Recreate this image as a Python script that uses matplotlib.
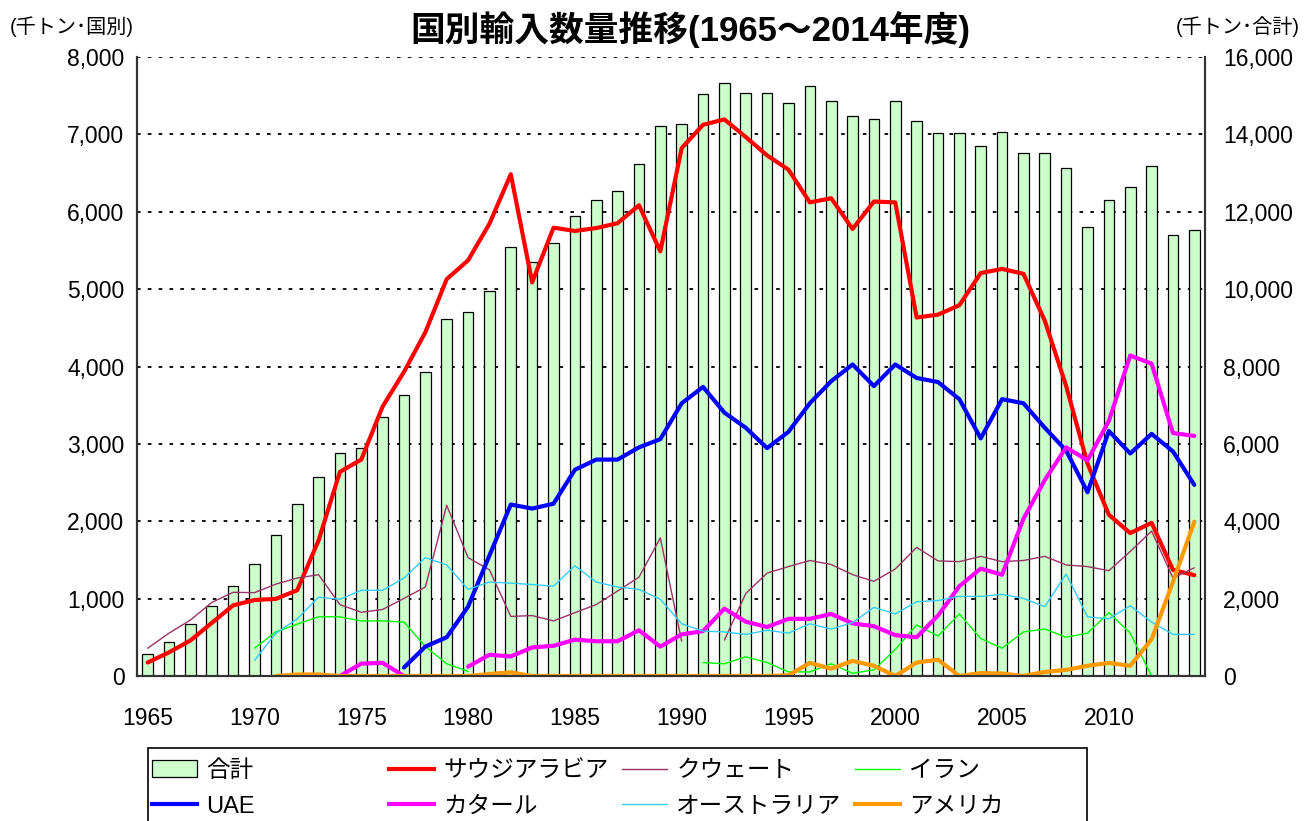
import numpy as np
import matplotlib
matplotlib.use("Agg")
import matplotlib.pyplot as plt
from matplotlib.ticker import FuncFormatter
from matplotlib.patches import Rectangle, Patch
from matplotlib.lines import Line2D

plt.rcParams['font.family'] = ['Liberation Sans', 'Noto Sans CJK JP']
nan = np.nan

years = np.arange(1965, 2015)

# 合計 (right axis)
total = [570, 887, 1351, 1815, 2322, 2890, 3650, 4440, 5150, 5763,
         5900, 6691, 7261, 7863, 9235, 9414, 9942, 11087, 10702, 11198,
         11884, 12306, 12528, 13245, 14206, 14280, 15040, 15325, 15082, 15082,
         14818, 15240, 14860, 14470, 14385, 14860, 14354, 14037, 14037, 13710,
         14069, 13530, 13530, 13140, 11599, 12306, 12644, 13172, 11409, 11525]

saudi = [174, 306, 459, 686, 913, 982, 997, 1108, 1752, 2639,
         2797, 3483, 3931, 4443, 5129, 5372, 5845, 6485, 5087, 5794,
         5752, 5789, 5852, 6084, 5488, 6823, 7124, 7193, 6966, 6728,
         6544, 6121, 6174, 5778, 6132, 6121, 4633, 4670, 4792, 5208,
         5261, 5198, 4591, 3747, 2744, 2084, 1847, 1979, 1372, 1303]

kuwait = [359, 554, 723, 950, 1082, 1077, 1187, 1266, 1309, 923,
          823, 860, 1003, 1150, 2206, 1530, 1372, 770, 781, 712,
          818, 923, 1098, 1277, 1784, 449, nan, 464, 1066, 1330,
          1414, 1493, 1441, 1310, 1224, 1383, 1662, 1488, 1478, 1546,
          1478, 1493, 1546, 1435, 1414, 1361, 1609, 1873, 1266, 1398]

iran = [nan, nan, nan, nan, nan, 359, 570, 670, 765, 765,
        712, 712, 697, 380, 158, 60, nan, nan, nan, nan,
        nan, nan, nan, nan, nan, nan, 174, 158, 248, 174,
        53, 53, 158, 35, 79, 343, 660, 517, 802, 485,
        359, 570, 607, 501, 554, 818, 554, 0, 0, 0]

uae = [nan, nan, nan, nan, nan, nan, nan, nan, nan, nan,
       nan, nan, 110, 380, 501, 897, 1557, 2216, 2164, 2227,
       2665, 2797, 2797, 2955, 3061, 3525, 3736, 3404, 3208, 2945,
       3156, 3525, 3810, 4026, 3747, 4026, 3852, 3799, 3578, 3071,
       3578, 3525, 3208, 2913, 2375, 3166, 2876, 3129, 2902, 2470]

qatar = [nan, nan, nan, nan, nan, nan, nan, nan, nan, 0,
         160, 170, 0, nan, nan, 121, 274, 253, 369, 390,
         470, 449, 449, 591, 380, 538, 580, 871, 702, 633,
         739, 739, 802, 680, 644, 528, 501, 781, 1161, 1388,
         1309, 2032, 2533, 2955, 2786, 3298, 4142, 4037, 3140, 3103]

australia = [nan, nan, nan, nan, nan, 201, 554, 739, 1018, 992,
             1108, 1108, 1266, 1530, 1435, 1119, 1214, 1200, 1182, 1161,
             1425, 1214, 1150, 1119, 992, 675, 580, 570, 538, 591,
             554, 675, 607, 690, 887, 802, 960, 976, 1029, 1029,
             1055, 1003, 897, 1319, 765, 739, 908, 697, 538, 538]

usa = [nan, nan, nan, nan, nan, nan, 0, 20, 20, 0,
       0, 0, 0, 0, 0, 0, 26, 47, 0, 0,
       0, 0, 0, 0, 0, 0, 0, 0, 0, 0,
       10, 169, 95, 195, 132, 0, 174, 211, 0, 37,
       32, 0, 53, 79, 132, 169, 132, 475, 1214, 1995]

series = [
    ("サウジアラビア", saudi, "#FF0000", 3.0),
    ("クウェート", kuwait, "#993366", 1.0),
    ("イラン", iran, "#00FF00", 1.0),
    ("UAE", uae, "#0000FF", 3.0),
    ("カタール", qatar, "#FF00FF", 3.0),
    ("オーストラリア", australia, "#33CCFF", 1.0),
    ("アメリカ", usa, "#FF9900", 3.0),
]

W, H = 1306, 821
fig = plt.figure(figsize=(W / 100, H / 100), dpi=100)
ax = fig.add_axes([137 / W, 1 - 676 / H, (1205 - 137) / W, (676 - 57) / H])
ax2 = ax.twinx()

# bars on the right axis, behind the lines
ax2.bar(years, total, width=0.5, color="#CCFFCC", edgecolor="black", linewidth=0.9, zorder=2)
ax2.set_ylim(0, 16000)
ax2.set_yticks(np.arange(0, 16001, 2000))
ax2.grid(axis="y", color="black", linestyle=(0, (2, 4)), linewidth=1.3, zorder=1)
ax2.set_axisbelow(True)

for name, vals, col, lw in series:
    ax.plot(years, vals, color=col, linewidth=lw, solid_joinstyle="round", solid_capstyle="round")

ax.set_zorder(ax2.get_zorder() + 1)
ax.patch.set_visible(False)
ax.set_xlim(1964.5, 2014.5)
ax.set_ylim(0, 8000)
ax.set_yticks(np.arange(0, 8001, 1000))
ax.set_xticks(np.arange(1965, 2011, 5))

fmt = FuncFormatter(lambda v, p: f"{v:,.0f}")
ax.yaxis.set_major_formatter(fmt)
ax2.yaxis.set_major_formatter(fmt)
ax.tick_params(axis="both", length=0, labelsize=16.5)
ax.tick_params(axis="y", pad=9)
ax.tick_params(axis="x", pad=22)
ax2.tick_params(axis="y", length=0, labelsize=16.5, pad=13)

for a in (ax, ax2):
    a.spines["top"].set_visible(False)
    for s in ("left", "right", "bottom"):
        a.spines[s].set_linewidth(1.5)
        a.spines[s].set_color("#333333")

fig.text(690 / W, 1 - 30 / H, "国別輸入数量推移(1965～2014年度)", ha="center", va="center",
         fontsize=25, fontweight="bold")
fig.text(10 / W, 1 - 27 / H, "(千トン･国別)", ha="left", va="center", fontsize=14.5)
fig.text(1300 / W, 1 - 27 / H, "(千トン･合計)", ha="right", va="center", fontsize=14.5)

# legend frame and four columns
fig.add_artist(Rectangle((148 / W, 1 - 835 / H), (1087 - 148) / W, (835 - 748) / H,
                         transform=fig.transFigure, facecolor="white", edgecolor="black", linewidth=1.2))

handles = {"合計": Patch(facecolor="#CCFFCC", edgecolor="black", linewidth=0.9)}
for name, vals, col, lw in series:
    handles[name] = Line2D([], [], color=col, linewidth=lw)

columns = [(152, ["合計", "UAE"]), (389, ["サウジアラビア", "カタール"]),
           (622, ["クウェート", "オーストラリア"]), (855, ["イラン", "アメリカ"])]
for x0, names in columns:
    leg = fig.legend([handles[n] for n in names], names, loc="upper left",
                     bbox_to_anchor=(x0 / W, 1 - 760 / H), frameon=False, fontsize=17,
                     handlelength=1.9, handletextpad=0.4, labelspacing=0.58,
                     borderpad=0, borderaxespad=0)

fig.savefig("out.png", dpi=100)
